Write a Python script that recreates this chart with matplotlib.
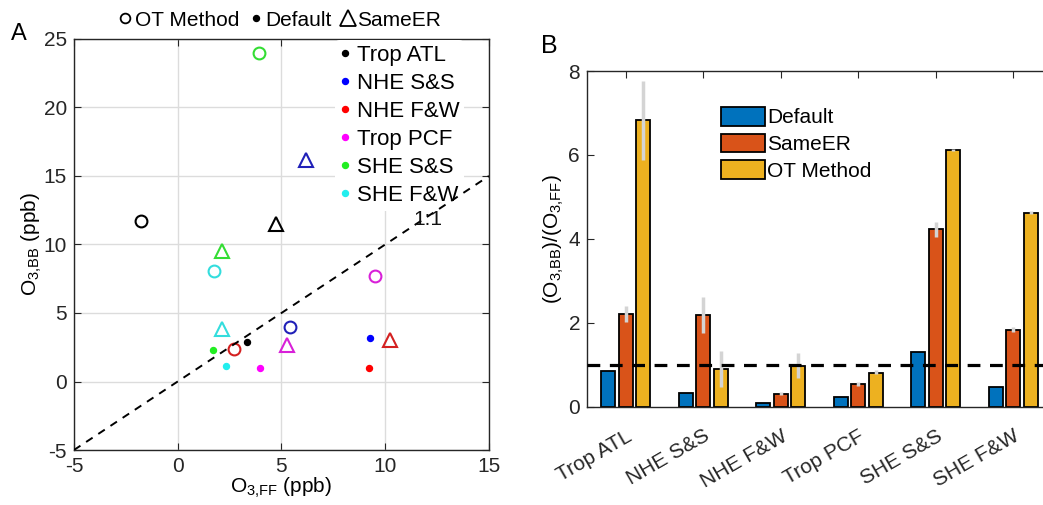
import matplotlib
matplotlib.use("Agg")
import matplotlib.pyplot as plt
from matplotlib.lines import Line2D
from matplotlib.patches import Patch
import matplotlib.transforms as mtransforms
import numpy as np

plt.rcParams['font.family'] = ['Liberation Sans', 'DejaVu Sans']
plt.rcParams['mathtext.default'] = 'regular'
plt.rcParams['axes.unicode_minus'] = False

# ---------------- Data ----------------
regions = ['Trop ATL', 'NHE S&S', 'NHE F&W', 'Trop PCF', 'SHE S&S', 'SHE F&W']
region_colors = ['black', '#0000ff', '#ff0000', '#ff00ff', '#22ee22', '#22eeee']
hollow_colors = ['black', '#2020b8', '#d42020', '#d820d8', '#33dd33', '#33dddd']

# Panel A: O3,FF (x) and O3,BB (y) in ppb
ot_ff = [-1.75, 5.4, 2.7, 9.5, 3.9, 1.75]
ot_bb = [11.7, 4.0, 2.4, 7.7, 24.0, 8.1]
def_ff = [3.35, 9.25, 9.2, 3.95, 1.7, 2.35]
def_bb = [2.9, 3.2, 1.0, 0.95, 2.3, 1.1]
same_ff = [4.75, 6.2, 10.25, 5.25, 2.15, 2.15]
same_bb = [11.5, 16.2, 3.0, 2.7, 9.5, 3.8]

# Panel B: ratio O3,BB / O3,FF
ratio_default = [0.86, 0.34, 0.10, 0.23, 1.32, 0.48]
ratio_sameer = [2.22, 2.19, 0.31, 0.55, 4.23, 1.83]
ratio_ot = [6.83, 0.91, 0.98, 0.81, 6.12, 4.63]
# error bar ranges (low, high)
sameer_lo = [2.02, 1.75, 0.28, 0.50, 4.04, 1.78]
sameer_hi = [2.41, 2.61, 0.36, 0.60, 4.40, 1.90]
ot_lo = [5.88, 0.48, 0.68, 0.78, 6.09, 4.60]
ot_hi = [7.77, 1.33, 1.29, 0.87, 6.15, 4.66]

series_names = ['Default', 'SameER', 'OT Method']
series_colors = ['#0072BD', '#D95319', '#EDB120']

axcol = '#262626'
FS = 15

fig = plt.figure(figsize=(10.43, 5.05), dpi=100)

# ---------------- Panel A ----------------
axA = fig.add_axes([0.0709, 0.1089, 0.3979, 0.8139])
axA.set_xlim(-5, 15)
axA.set_ylim(-5, 25)
axA.set_xticks([-5, 0, 5, 10, 15])
axA.set_yticks([-5, 0, 5, 10, 15, 20, 25])
axA.grid(True, color='#dcdcdc', linewidth=1.0)
axA.set_axisbelow(True)
axA.plot([-5, 15], [-5, 15], linestyle=(0, (4, 3.5)), color='black', lw=1.4, zorder=6)
axA.text(12.05, 11.8, '1:1', fontsize=FS, ha='center', va='center', color='#111111', zorder=7)

for i in range(len(regions)):
    axA.plot(ot_ff[i], ot_bb[i], 'o', ms=8.5, mfc='none', mec=hollow_colors[i], mew=1.5, zorder=3)
    axA.plot(def_ff[i], def_bb[i], 'o', ms=4.3, color=region_colors[i], mec=region_colors[i], zorder=3)
    axA.plot(same_ff[i], same_bb[i], '^', ms=10, mfc='none', mec=hollow_colors[i], mew=1.5, zorder=3)

for sp in axA.spines.values():
    sp.set_color(axcol)
    sp.set_linewidth(1.0)
axA.tick_params(direction='in', top=True, right=True, labelsize=FS, colors=axcol, length=5, pad=5)
axA.set_xlabel('O$_{3{,}FF}$ (ppb)', fontsize=FS, labelpad=0)
axA.set_ylabel('O$_{3{,}BB}$ (ppb)', fontsize=FS, labelpad=0)

reg_handles = [Line2D([], [], marker='o', ls='none', ms=4.3, color=c) for c in region_colors]
legA = axA.legend(reg_handles, regions, loc='upper left', bbox_to_anchor=(0.63, 0.997),
                  fontsize=16, frameon=True, framealpha=1, edgecolor='none', facecolor='white',
                  handlelength=0.5, handletextpad=0.25, labelspacing=0.32, borderpad=0.2,
                  borderaxespad=0.0)
legA.set_zorder(5)
axA.add_artist(legA)

top_handles = [Line2D([], [], marker='o', ls='none', ms=7, mfc='none', mec='black', mew=1.3),
               Line2D([], [], marker='o', ls='none', ms=4.3, color='black'),
               Line2D([], [], marker='^', ls='none', ms=11, mfc='none', mec='black', mew=1.3)]
axA.legend(top_handles, ['OT Method', 'Default', 'SameER'], loc='center',
           bbox_to_anchor=(0.497, 1.046), ncol=3, frameon=False, fontsize=FS,
           handlelength=0.6, handletextpad=0.15, columnspacing=0.5, borderpad=0.1)

fig.text(11 / 1043, 1 - 34 / 505, 'A', fontsize=17, ha='left', va='center')

# ---------------- Panel B ----------------
axB = fig.add_axes([0.5628, 0.1941, 0.4458, 0.6653])
x = np.arange(1, len(regions) + 1)
w = 0.18
offs = [-0.227, 0.0, 0.227]
vals = [ratio_default, ratio_sameer, ratio_ot]
for k in range(3):
    axB.bar(x + offs[k], vals[k], width=w, color=series_colors[k], edgecolor='black',
            linewidth=1.3, zorder=2)
for i in range(len(regions)):
    axB.plot([x[i] + offs[1]] * 2, [sameer_lo[i], sameer_hi[i]], color='#d4d4d4', lw=2.5,
             solid_capstyle='butt', zorder=3)
    axB.plot([x[i] + offs[2]] * 2, [ot_lo[i], ot_hi[i]], color='#d4d4d4', lw=2.5,
             solid_capstyle='butt', zorder=3)
axB.axhline(1, color='black', lw=2.3, linestyle=(0, (4, 3)), zorder=4)
axB.set_xlim(0.5, 6.5)
axB.set_ylim(0, 8)
axB.set_yticks([0, 2, 4, 6, 8])
axB.set_xticks(x)
axB.set_xticklabels(regions, rotation=30, ha='right', rotation_mode='anchor', fontsize=FS)
shift = mtransforms.ScaledTranslation(9 / 100, 0, fig.dpi_scale_trans)
for lab in axB.get_xticklabels():
    lab.set_transform(lab.get_transform() + shift)
for sp in axB.spines.values():
    sp.set_color(axcol)
    sp.set_linewidth(1.0)
axB.tick_params(direction='in', top=True, right=True, labelsize=FS, colors=axcol, length=5, pad=5)
axB.tick_params(axis='x', pad=14)
axB.set_ylabel('(O$_{3{,}BB}$)/(O$_{3{,}FF}$)', fontsize=FS, labelpad=2)

bar_handles = [Patch(facecolor=c, edgecolor='black', linewidth=1.3) for c in series_colors]
axB.legend(bar_handles, series_names, loc='upper left', bbox_to_anchor=(0.262, 0.93),
           frameon=False, fontsize=FS, handlelength=2.1, handleheight=1.0,
           handletextpad=0.1, labelspacing=0.3, borderpad=0.1)

fig.text(541 / 1043, 1 - 46 / 505, 'B', fontsize=18, ha='left', va='center')

fig.savefig('out.png', dpi=100)
